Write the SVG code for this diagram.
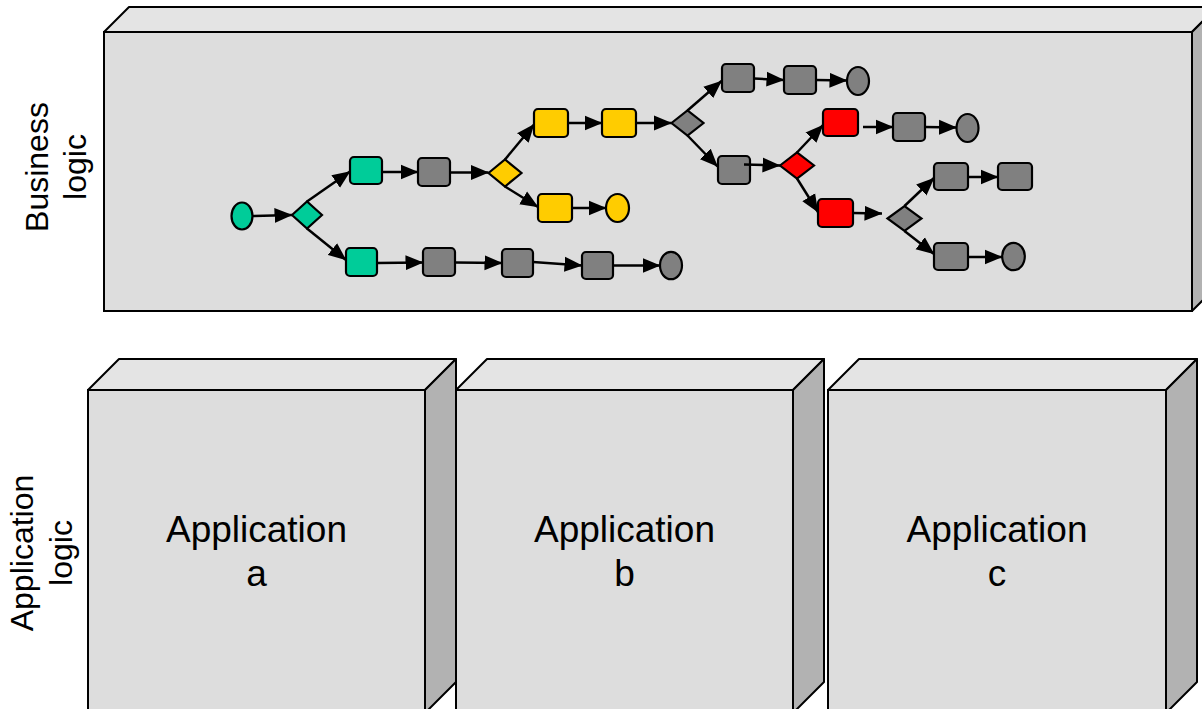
<svg xmlns="http://www.w3.org/2000/svg" width="1202" height="709" viewBox="0 0 1202 709">
  <defs>
    <marker id="arrow" markerUnits="userSpaceOnUse" viewBox="0 0 18 16" markerWidth="18" markerHeight="16" refX="17.5" refY="8" orient="auto">
      <path d="M0,0.5 L18,8 L0,15.5 Z" fill="#000"/>
    </marker>
    <style>
      .front { fill: #dddddd; stroke: #000; stroke-width: 2; }
      .top { fill: #e4e4e4; stroke: #000; stroke-width: 2; stroke-linejoin: round; }
      .side { fill: #b2b2b2; stroke: #000; stroke-width: 2; stroke-linejoin: round; }
      .lbl { font-family: "Liberation Sans", Arial, sans-serif; fill: #000; text-anchor: middle; }
      .side-lbl { font-size: 32px; }
      .app-lbl { font-size: 37px; }
      .n { stroke: #000; stroke-width: 2.2; }
      .green { fill: #00cc99; }
      .yellow { fill: #ffcc00; }
      .red { fill: #ff0000; }
      .gray { fill: #808080; }
      .edge { stroke: #000; stroke-width: 2.5; fill: none; }
    </style>
  </defs>

  <rect width="1202" height="709" fill="#ffffff"/>

  <!-- Layer labels -->
  <g id="label-business">
    <text class="lbl side-lbl" transform="translate(48,167) rotate(-90)">Business</text>
    <text class="lbl side-lbl" transform="translate(86,167) rotate(-90)">logic</text>
  </g>
  <g id="label-application">
    <text class="lbl side-lbl" transform="translate(33,553) rotate(-90)">Application</text>
    <text class="lbl side-lbl" transform="translate(72,553) rotate(-90)">logic</text>
  </g>

  <!-- Business logic slab -->
  <g id="business-slab">
    <polygon class="top" points="104,32 129,7 1217,7 1192,32"/>
    <polygon class="side" points="1192,32 1217,7 1217,286 1192,311"/>
    <rect class="front" x="104" y="32" width="1088" height="279"/>
  </g>

  <!-- Application blocks -->
  <g id="app-a">
    <polygon class="top" points="88,390 119,359 456,359 425,390"/>
    <polygon class="side" points="425,390 456,359 456,682 425,713"/>
    <rect class="front" x="88" y="390" width="337" height="330"/>
    <text class="lbl app-lbl" x="256.5" y="542">Application</text>
    <text class="lbl app-lbl" x="256.5" y="586">a</text>
  </g>
  <g id="app-b">
    <polygon class="top" points="456,390 487,359 824,359 793,390"/>
    <polygon class="side" points="793,390 824,359 824,682 793,713"/>
    <rect class="front" x="456" y="390" width="337" height="330"/>
    <text class="lbl app-lbl" x="624.5" y="542">Application</text>
    <text class="lbl app-lbl" x="624.5" y="586">b</text>
  </g>
  <g id="app-c">
    <polygon class="top" points="828,390 859,359 1197,359 1166,390"/>
    <polygon class="side" points="1166,390 1197,359 1197,682 1166,713"/>
    <rect class="front" x="828" y="390" width="338" height="330"/>
    <text class="lbl app-lbl" x="997" y="542">Application</text>
    <text class="lbl app-lbl" x="997" y="586">c</text>
  </g>

  <!-- Process flow nodes -->
  <g id="start"><ellipse class="n green" cx="242" cy="216" rx="10.5" ry="13.5"/></g>
  <g id="split-1"><polygon class="n green" points="292,215 307,201.5 322,215 307,228.5"/></g>
  <g id="task-g1"><rect class="n green" x="350" y="157" width="32" height="27" rx="4"/></g>
  <g id="task-g2"><rect class="n green" x="346" y="248" width="31" height="28" rx="4"/></g>
  <g id="task-p1"><rect class="n gray" x="418" y="158" width="32" height="28" rx="4"/></g>
  <g id="split-2"><polygon class="n yellow" points="488.5,173 505,159.5 521.5,173 505,186.5"/></g>
  <g id="task-y1"><rect class="n yellow" x="534" y="109" width="34" height="28" rx="4"/></g>
  <g id="task-y2"><rect class="n yellow" x="602" y="109" width="34" height="28" rx="4"/></g>
  <g id="task-y3"><rect class="n yellow" x="538" y="194" width="34" height="28" rx="4"/></g>
  <g id="end-y"><ellipse class="n yellow" cx="617.5" cy="208" rx="11.5" ry="14"/></g>
  <g id="split-3"><polygon class="n gray" points="671.5,123 687.5,110.5 703.5,123 687.5,135.5"/></g>
  <g id="task-p2"><rect class="n gray" x="722" y="64" width="32" height="28" rx="4"/></g>
  <g id="task-p3"><rect class="n gray" x="784" y="66" width="32" height="28" rx="4"/></g>
  <g id="end-p1"><ellipse class="n gray" cx="858" cy="81" rx="11" ry="14"/></g>
  <g id="task-p4"><rect class="n gray" x="718" y="156" width="32" height="28" rx="4"/></g>
  <g id="split-4"><polygon class="n red" points="780,165.5 797,152.5 814,165.5 797,178.5"/></g>
  <g id="task-r1"><rect class="n red" x="823" y="109" width="35" height="27" rx="4"/></g>
  <g id="task-p5"><rect class="n gray" x="893" y="113" width="32" height="28" rx="4"/></g>
  <g id="end-p2"><ellipse class="n gray" cx="967.5" cy="128" rx="11" ry="14"/></g>
  <g id="task-r2"><rect class="n red" x="818" y="199" width="35" height="28" rx="4"/></g>
  <g id="split-5"><polygon class="n gray" points="887.5,218.5 904.5,206 921.5,218.5 904.5,231"/></g>
  <g id="task-p6"><rect class="n gray" x="934" y="163" width="34" height="27" rx="4"/></g>
  <g id="task-p7"><rect class="n gray" x="998" y="163" width="34" height="27" rx="4"/></g>
  <g id="task-p8"><rect class="n gray" x="934" y="243" width="34" height="27" rx="4"/></g>
  <g id="end-p3"><ellipse class="n gray" cx="1013.5" cy="256.5" rx="11.3" ry="13.7"/></g>
  <g id="task-p9"><rect class="n gray" x="423" y="248" width="32" height="28" rx="4"/></g>
  <g id="task-p10"><rect class="n gray" x="502" y="249" width="31" height="28" rx="4"/></g>
  <g id="task-p11"><rect class="n gray" x="582" y="252" width="31" height="27" rx="4"/></g>
  <g id="end-p4"><ellipse class="n gray" cx="671" cy="265.5" rx="11" ry="13.7"/></g>

  <!-- Connectors: every line ends in the shared arrowhead marker -->
  <g id="connectors" class="edge" marker-end="url(#arrow)">
    <line x1="252.5" y1="216" x2="292" y2="215" marker-end="url(#arrow)"/>
    <line x1="307" y1="201.5" x2="350" y2="171.5" marker-end="url(#arrow)"/>
    <line x1="307" y1="228.5" x2="346" y2="260" marker-end="url(#arrow)"/>
    <line x1="382" y1="172" x2="418" y2="172" marker-end="url(#arrow)"/>
    <line x1="450" y1="172.5" x2="488.5" y2="172.5" marker-end="url(#arrow)"/>
    <line x1="505" y1="159.5" x2="534" y2="124.5" marker-end="url(#arrow)"/>
    <line x1="505" y1="186.5" x2="538" y2="207" marker-end="url(#arrow)"/>
    <line x1="568" y1="123" x2="602" y2="123" marker-end="url(#arrow)"/>
    <line x1="636" y1="123" x2="671.5" y2="123" marker-end="url(#arrow)"/>
    <line x1="572" y1="208" x2="606" y2="208" marker-end="url(#arrow)"/>
    <line x1="687.5" y1="110.5" x2="721.5" y2="81" marker-end="url(#arrow)"/>
    <line x1="687.5" y1="135.5" x2="717.5" y2="166.5" marker-end="url(#arrow)"/>
    <line x1="754" y1="78.5" x2="784" y2="80" marker-end="url(#arrow)"/>
    <line x1="816" y1="80" x2="847" y2="80.5" marker-end="url(#arrow)"/>
    <line x1="744" y1="164.5" x2="780" y2="165.5" marker-end="url(#arrow)"/>
    <line x1="797" y1="152.5" x2="823" y2="125" marker-end="url(#arrow)"/>
    <line x1="797" y1="178.5" x2="818" y2="212" marker-end="url(#arrow)"/>
    <line x1="863" y1="127" x2="893" y2="127" marker-end="url(#arrow)"/>
    <line x1="925" y1="127" x2="956.5" y2="127.5" marker-end="url(#arrow)"/>
    <line x1="853" y1="213" x2="882" y2="213.5" marker-end="url(#arrow)"/>
    <line x1="904.5" y1="206" x2="934" y2="178" marker-end="url(#arrow)"/>
    <line x1="904.5" y1="231" x2="934" y2="254" marker-end="url(#arrow)"/>
    <line x1="968" y1="177" x2="998" y2="177" marker-end="url(#arrow)"/>
    <line x1="968" y1="257" x2="1002" y2="257" marker-end="url(#arrow)"/>
    <line x1="377" y1="263" x2="423" y2="262.5" marker-end="url(#arrow)"/>
    <line x1="455" y1="262.5" x2="502" y2="263" marker-end="url(#arrow)"/>
    <line x1="533" y1="262" x2="582" y2="265.5" marker-end="url(#arrow)"/>
    <line x1="613" y1="265.5" x2="660" y2="265.5" marker-end="url(#arrow)"/>
  </g>
</svg>
